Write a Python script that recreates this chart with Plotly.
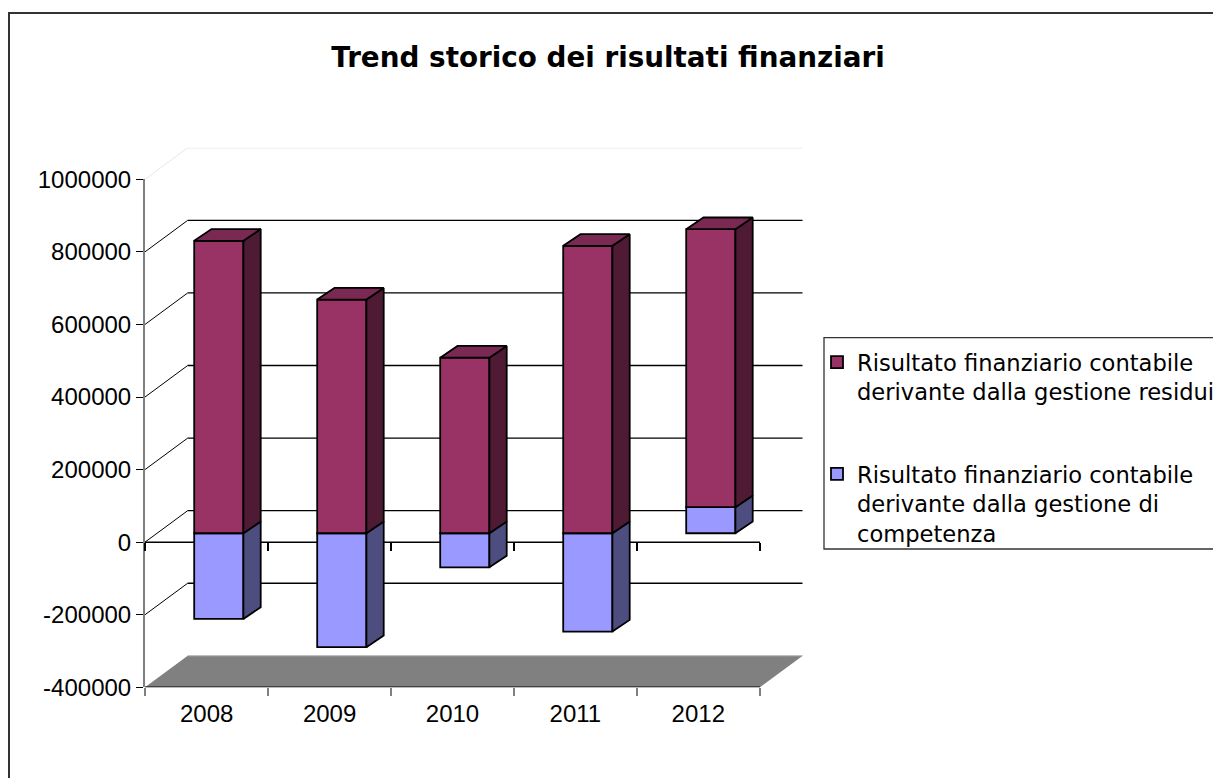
import plotly.graph_objects as go

# ---------------- data ----------------
years = ["2008", "2009", "2010", "2011", "2012"]
competenza = [-236000, -314000, -94000, -271000, 72000]
residui = [806000, 644000, 484000, 792000, 766000]
name_residui = "Risultato finanziario contabile<br>derivante dalla gestione residui"
name_competenza = "Risultato finanziario contabile<br>derivante dalla gestione di<br>competenza"
title_text = "Trend storico dei risultati finanziari"
y_min, y_max, y_step = -400000, 1000000, 200000
y_ticks = list(range(y_min, y_max + 1, y_step))

# ---------------- layout geometry (screen pixels) ----------------
OFF = 0                      # body margin removed by post_script
FW, FH = 1213, 778
LEFT, FRONT_W = 145, 615
FRONT_TOP, FRONT_BOT = 179.3, 687.3
WALL_DX_PX, WALL_DY_PX = 42.7, 31.5      # depth of the 3D box
FRONT_DX_PX, FRONT_DY_PX = 12.3, 8.9     # bar front-face depth offset
BAR_DX_PX, BAR_DY_PX = 17.3, 11.7        # bar depth
BAR_W = 0.4
EPS = 0.002                              # tiny range pad so end ticks show

def fx(p):
    return (p - OFF) / FW

def fy(p):
    return 1 - (p - OFF) / FH

n = len(years)
px_cat = FRONT_W / n
px_val = (FRONT_BOT - FRONT_TOP) / (y_max - y_min)
DX, DY = WALL_DX_PX / px_cat, WALL_DY_PX / px_val
FX, FY = FRONT_DX_PX / px_cat, FRONT_DY_PX / px_val
BX, BY = BAR_DX_PX / px_cat, BAR_DY_PX / px_val

FONT = "Liberation Sans, Arial, sans-serif"
FONT_WIDE = "DejaVu Sans, Verdana, sans-serif"
C_RES = dict(front="#993366", side="#4F1A33", top="#7A2A52")
C_COMP = dict(front="#9999FF", side="#4D4D80", top="#7A7ACC")

# stacking
comp_base = [min(c, 0) for c in competenza]
comp_top = [max(c, 0) for c in competenza]
res_base = [max(c, 0) for c in competenza]
res_top = [b + r for b, r in zip(res_base, residui)]
stack_top = [max(a, b) for a, b in zip(comp_top, res_top)]

fig = go.Figure()

def faces(bases, tops, colors, draw_top):
    sx, sy, tx, ty = [], [], [], []
    for i, (b, t) in enumerate(zip(bases, tops)):
        if t == b:
            continue
        xr = i + FX + BAR_W / 2
        xl = i + FX - BAR_W / 2
        yb, yt = b + FY, t + FY
        sx += [xr, xr + BX, xr + BX, xr, xr, None]
        sy += [yb, yb + BY, yt + BY, yt, yb, None]
        if draw_top(i, t):
            tx += [xl, xl + BX, xr + BX, xr, xl, None]
            ty += [yt, yt + BY, yt + BY, yt, yt, None]
    fig.add_trace(go.Scatter(x=sx, y=sy, mode="lines", fill="toself",
                             fillcolor=colors["side"], line=dict(color="black", width=1.8),
                             xaxis="x3", yaxis="y3", showlegend=False, hoverinfo="skip"))
    if tx:
        fig.add_trace(go.Scatter(x=tx, y=ty, mode="lines", fill="toself",
                                 fillcolor=colors["top"], line=dict(color="black", width=1.8),
                                 xaxis="x3", yaxis="y3", showlegend=False, hoverinfo="skip"))

faces(comp_base, comp_top, C_COMP, lambda i, t: t == stack_top[i])
faces(res_base, res_top, C_RES, lambda i, t: t == stack_top[i])

xs = [i + FX for i in range(n)]
fig.add_trace(go.Bar(x=xs, y=[t - b for b, t in zip(comp_base, comp_top)],
                     base=[b + FY for b in comp_base], width=BAR_W,
                     marker=dict(color=C_COMP["front"], line=dict(color="black", width=1.8)),
                     name=name_competenza, legendrank=2, legendgroup="c",
                     xaxis="x3", yaxis="y3"))
fig.add_trace(go.Bar(x=xs, y=residui, base=[b + FY for b in res_base], width=BAR_W,
                     marker=dict(color=C_RES["front"], line=dict(color="black", width=1.8)),
                     name=name_residui, legendrank=1, legendgroup="r",
                     xaxis="x3", yaxis="y3"))

# dummy traces so the front axes are drawn
fig.add_trace(go.Scatter(x=years, y=[None] * n, xaxis="x", yaxis="y", showlegend=False, hoverinfo="skip"))
fig.add_trace(go.Scatter(x=years, y=[None] * n, xaxis="x2", yaxis="y", showlegend=False, hoverinfo="skip"))

# ---------------- background 3D box (shapes below traces) ----------------
shapes = []
x0w, x1w = -0.5, n - 0.5
shapes.append(dict(type="path", xref="x3", yref="y3", layer="below",
                   path=f"M {x0w},{y_min} L {x1w},{y_min} L {x1w+DX},{y_min+DY} L {x0w+DX},{y_min+DY} Z",
                   fillcolor="#808080", line=dict(width=0)))
shapes.append(dict(type="line", xref="x3", yref="y3", layer="below",
                   x0=x0w + DX, x1=x1w + DX, y0=y_min + DY, y1=y_min + DY,
                   line=dict(color="#B0B0B0", width=1)))
for v in y_ticks[1:]:
    col = "#E6E6E6" if v == y_max else "black"
    shapes.append(dict(type="line", xref="x3", yref="y3", layer="below",
                       x0=x0w + DX, x1=x1w + DX, y0=v + DY, y1=v + DY,
                       line=dict(color=col, width=1.3)))
    shapes.append(dict(type="line", xref="x3", yref="y3", layer="below",
                       x0=x0w, x1=x0w + DX, y0=v, y1=v + DY,
                       line=dict(color=col, width=1)))
for v in (0, y_min):
    shapes.append(dict(type="line", xref="x3", yref="y3", layer="below",
                       x0=x0w, x1=x1w, y0=v, y1=v, line=dict(color="black", width=1.5)))
# outer chart border
shapes.append(dict(type="rect", xref="paper", yref="paper", x0=fx(9), x1=1.05, y0=-0.05, y1=fy(13),
                   line=dict(color="#333333", width=2), fillcolor="rgba(0,0,0,0)", layer="below"))
# legend frame
shapes.append(dict(type="rect", xref="paper", yref="paper", x0=fx(824), x1=1.05, y0=fy(549), y1=fy(337.7),
                   line=dict(color="#333333", width=1.3), fillcolor="white", layer="below"))

zero_pos = fy(FRONT_BOT - (0 - y_min) * px_val)
cat_range = [-0.5 - EPS, n - 0.5 + EPS]

tickfont = dict(family=FONT, size=24, color="black")
fig.update_layout(
    width=FW, height=FH, margin=dict(l=0, r=0, t=0, b=0, autoexpand=False),
    paper_bgcolor="white", plot_bgcolor="rgba(0,0,0,0)",
    barmode="overlay", shapes=shapes,
    font=dict(family=FONT, color="black"),
    title=dict(text=f"<b>{title_text}</b>", x=fx(608), xanchor="center", y=fy(57), yanchor="middle",
               font=dict(family=FONT_WIDE, size=27.8, color="black")),
    xaxis=dict(domain=[fx(LEFT), fx(LEFT + FRONT_W)], type="category", categoryorder="array",
               categoryarray=years, range=cat_range, tickson="boundaries", ticks="outside",
               ticklen=8, tickcolor="#808080", tickwidth=1.5, showline=False, showgrid=False,
               zeroline=False, tickfont=tickfont, ticklabelstandoff=10, anchor="y", fixedrange=True),
    xaxis2=dict(overlaying="x", type="category", categoryorder="array", categoryarray=years,
                range=cat_range, tickson="boundaries", ticks="outside", ticklen=8,
                tickcolor="black", tickwidth=1.5, showticklabels=False, showline=False,
                showgrid=False, zeroline=False, anchor="free", position=zero_pos, fixedrange=True),
    yaxis=dict(domain=[fy(FRONT_BOT), fy(FRONT_TOP)], range=[y_min, y_max], tickmode="array",
               tickvals=y_ticks, ticktext=[str(v) for v in y_ticks], ticks="outside", ticklen=7,
               tickcolor="black", showline=True, linecolor="#808080", linewidth=2, showgrid=False,
               zeroline=False, tickfont=tickfont, anchor="x", fixedrange=True),
    xaxis3=dict(domain=[fx(LEFT), fx(LEFT + FRONT_W + WALL_DX_PX)], range=[x0w, x1w + DX],
                visible=False, anchor="y3", fixedrange=True),
    yaxis3=dict(domain=[fy(FRONT_BOT), fy(FRONT_TOP - WALL_DY_PX)], range=[y_min, y_max + DY],
                visible=False, anchor="x3", fixedrange=True),
    legend=dict(x=fx(817), y=fy(341), xanchor="left", yanchor="top", valign="top",
                bgcolor="rgba(0,0,0,0)", borderwidth=0,
                font=dict(family=FONT_WIDE, size=22.6, color="black"),
                tracegroupgap=50, traceorder="grouped"),
)

fig.write_html(
    "out.html",
    config={"displayModeBar": False},
    post_script="document.body.style.margin='0';document.body.style.overflow='hidden';",
)
